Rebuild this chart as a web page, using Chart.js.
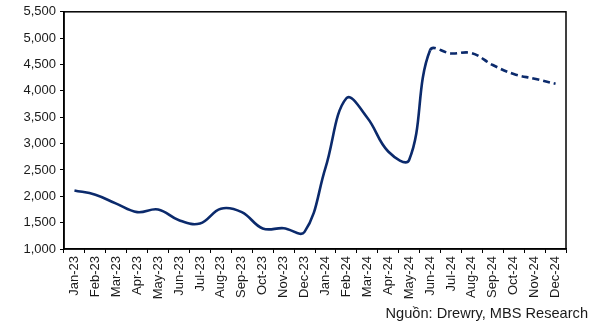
<!DOCTYPE html>
<html>
<head>
<meta charset="utf-8">
<script src="https://cdn.jsdelivr.net/npm/chart.js@4"></script>
<style>
  html, body { margin: 0; padding: 0; background: #fff; }
  #wrap { width: 599px; height: 329px; position: relative; }
</style>
</head>
<body>
<div id="wrap"><canvas id="freight"></canvas></div>
<script>
// Monthly freight index, Jan-23 to Dec-24 (forecast from Jun-24 drawn dashed)
const months = ['Jan-23', 'Feb-23', 'Mar-23', 'Apr-23', 'May-23', 'Jun-23', 'Jul-23', 'Aug-23', 'Sep-23', 'Oct-23', 'Nov-23', 'Dec-23',
                'Jan-24', 'Feb-24', 'Mar-24', 'Apr-24', 'May-24', 'Jun-24', 'Jul-24', 'Aug-24', 'Sep-24', 'Oct-24', 'Nov-24', 'Dec-24'];
const rates = [2110, 2030, 1860, 1700, 1750, 1545, 1485, 1765, 1700, 1390, 1395, 1325,
               2540, 3860, 3490, 2850, 2690, 4770, 4710, 4715, 4490, 4320, 4230, 4135];
const forecastFrom = 17; // Jun-24 onwards is dashed
const sourceNote = 'Nguồn: Drewry, MBS Research';

const lineColor = '#0b2a6c';
const textColor = '#1a1a1a';
const tickFont = { family: 'Liberation Sans, Arial, sans-serif', size: 13 };

// frame round the plot area and the source line underneath
const framePlugin = {
    id: 'frame',
    afterDraw(chart) {
        const { ctx, chartArea } = chart;
        ctx.save();
        ctx.strokeStyle = '#000';
        ctx.lineWidth = 1.5;
        ctx.strokeRect(chartArea.left, chartArea.top, chartArea.right - chartArea.left, chartArea.bottom - chartArea.top);
        ctx.fillStyle = textColor;
        ctx.font = '14.6px Liberation Sans, Arial, sans-serif';
        ctx.textAlign = 'right';
        ctx.textBaseline = 'alphabetic';
        ctx.fillText(sourceNote, 588, 318);
        ctx.restore();
    }
};

new Chart(document.getElementById('freight'), {
    type: 'line',
    data: {
        labels: months,
        datasets: [{
            data: rates,
            borderColor: lineColor,
            borderWidth: 2.6,
            tension: 0.4,
            pointRadius: 0,
            fill: false,
            segment: {
                borderDash: ctx => ctx.p0DataIndex >= forecastFrom ? [7, 4] : undefined
            }
        }]
    },
    options: {
        responsive: true,
        maintainAspectRatio: false,
        animation: false,
        layout: { padding: { top: 10, right: 33, left: 0, bottom: 0 } },
        plugins: {
            legend: { display: false },
            tooltip: { enabled: false }
        },
        scales: {
            x: {
                offset: true,
                grid: { offset: true, drawOnChartArea: false, drawTicks: true, tickLength: 4, color: '#000' },
                border: { color: '#000', width: 1.5 },
                ticks: {
                    color: textColor,
                    font: tickFont,
                    minRotation: 90,
                    maxRotation: 90,
                    autoSkip: false,
                    padding: 3
                },
                afterFit(scale) { scale.height = 80; }
            },
            y: {
                min: 1000,
                max: 5500,
                grid: { drawOnChartArea: false, drawTicks: true, tickLength: 4, color: '#000' },
                border: { color: '#000', width: 1.5 },
                ticks: {
                    stepSize: 500,
                    color: textColor,
                    font: tickFont,
                    padding: 4
                },
                afterFit(scale) { scale.width = 64; }
            }
        }
    },
    plugins: [framePlugin]
});
</script>
</body>
</html>
